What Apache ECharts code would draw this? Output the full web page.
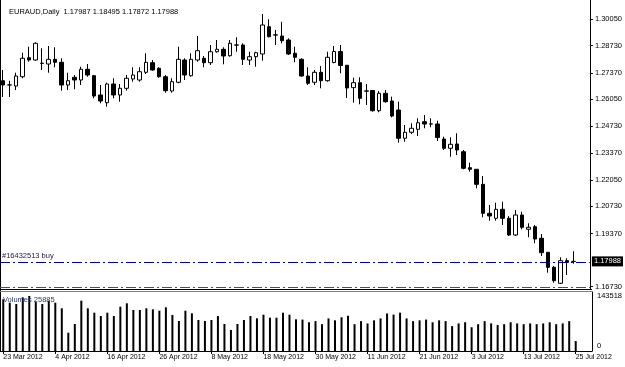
<!DOCTYPE html>
<html><head><meta charset="utf-8">
<script src="https://cdn.jsdelivr.net/npm/echarts@6/dist/echarts.min.js"></script>
<style>html,body{margin:0;padding:0;background:#fff}#c{width:625px;height:367px}</style>
</head><body><div id="c"></div>
<script>
const symbolName = 'EURAUD,Daily';
const dates = [
'23 Mar 2012','26 Mar 2012','27 Mar 2012','28 Mar 2012','29 Mar 2012','30 Mar 2012',
'2 Apr 2012','3 Apr 2012','4 Apr 2012','5 Apr 2012','6 Apr 2012','9 Apr 2012','10 Apr 2012','11 Apr 2012','12 Apr 2012','13 Apr 2012',
'16 Apr 2012','17 Apr 2012','18 Apr 2012','19 Apr 2012','20 Apr 2012','23 Apr 2012','24 Apr 2012','25 Apr 2012','26 Apr 2012','27 Apr 2012','30 Apr 2012',
'1 May 2012','2 May 2012','3 May 2012','4 May 2012','7 May 2012','8 May 2012','9 May 2012','10 May 2012','11 May 2012',
'14 May 2012','15 May 2012','16 May 2012','17 May 2012','18 May 2012','21 May 2012','22 May 2012','23 May 2012','24 May 2012','25 May 2012',
'28 May 2012','29 May 2012','30 May 2012','31 May 2012','1 Jun 2012',
'4 Jun 2012','5 Jun 2012','6 Jun 2012','7 Jun 2012','8 Jun 2012','11 Jun 2012','12 Jun 2012','13 Jun 2012','14 Jun 2012','15 Jun 2012',
'18 Jun 2012','19 Jun 2012','20 Jun 2012','21 Jun 2012','22 Jun 2012','25 Jun 2012','26 Jun 2012','27 Jun 2012','28 Jun 2012','29 Jun 2012',
'2 Jul 2012','3 Jul 2012','4 Jul 2012','5 Jul 2012','6 Jul 2012','9 Jul 2012','10 Jul 2012','11 Jul 2012','12 Jul 2012','13 Jul 2012',
'16 Jul 2012','17 Jul 2012','18 Jul 2012','19 Jul 2012','20 Jul 2012','23 Jul 2012','24 Jul 2012','25 Jul 2012'
];
const opens = [
1.26979,1.26770,1.26716,1.27178,1.28124,1.28009,1.27850,1.27810,1.28044,1.27895,
1.26765,1.27149,1.27014,1.27547,1.27228,1.26268,1.25885,1.26815,1.26268,1.26601,
1.27064,1.27014,1.27397,1.27875,1.27596,1.27178,1.26467,1.26900,1.28009,1.27228,
1.28009,1.28094,1.27875,1.28422,1.28542,1.28223,1.28760,1.28756,1.28009,1.28174,
1.28308,1.29666,1.29260,1.29204,1.29005,1.28343,1.28044,1.27213,1.26900,1.27397,
1.26979,1.27885,1.28432,1.27746,1.26631,1.26880,1.26470,1.26492,1.25487,1.26352,
1.25969,1.25521,1.24113,1.24412,1.24561,1.24939,1.24830,1.24825,1.24078,1.23616,
1.23830,1.23446,1.22650,1.22571,1.21824,1.20381,1.20132,1.20580,1.20132,1.19301,
1.20297,1.19585,1.19714,1.19137,1.18440,1.17694,1.16898,1.18023,1.17987
];
const highs = [
1.27512,1.26975,1.27377,1.28373,1.28671,1.28890,1.28592,1.28706,1.28641,1.28094,
1.27377,1.27263,1.27676,1.27810,1.27263,1.26765,1.26880,1.27099,1.26815,1.27263,
1.27646,1.27646,1.28343,1.28009,1.27646,1.27263,1.27099,1.28671,1.28094,1.28343,
1.29204,1.28208,1.28756,1.29005,1.28641,1.29005,1.29139,1.28840,1.28422,1.28422,
1.30298,1.30035,1.29502,1.29915,1.29089,1.28671,1.28094,1.27646,1.27512,1.27711,
1.28422,1.28706,1.28756,1.27761,1.27129,1.27149,1.26815,1.26517,1.26467,1.26517,
1.26183,1.25934,1.24775,1.24860,1.25108,1.25273,1.25108,1.24989,1.24193,1.24163,
1.24362,1.23531,1.22899,1.22571,1.22237,1.20794,1.20909,1.20958,1.20247,1.20545,
1.20461,1.19884,1.19799,1.19351,1.18440,1.17759,1.18192,1.18142,1.18495
];
const lows = [
1.26168,1.26168,1.26517,1.27099,1.27925,1.27975,1.27512,1.27377,1.27646,1.26482,
1.26517,1.26551,1.26765,1.27178,1.26104,1.25855,1.25686,1.26104,1.25934,1.26482,
1.26930,1.26930,1.27313,1.27477,1.27129,1.26382,1.26382,1.26850,1.27014,1.27178,
1.27925,1.27646,1.27761,1.28373,1.27795,1.28174,1.28422,1.27761,1.27761,1.27676,
1.27975,1.29139,1.28756,1.28840,1.28258,1.27895,1.27178,1.26765,1.26765,1.26601,
1.26930,1.27845,1.27348,1.26119,1.25885,1.25805,1.25770,1.25437,1.25407,1.25885,
1.25158,1.23894,1.23944,1.24327,1.24228,1.24611,1.24661,1.23979,1.23531,1.23198,
1.23282,1.22571,1.22451,1.21625,1.20182,1.20013,1.20013,1.19799,1.19252,1.19252,
1.19585,1.19187,1.18888,1.18256,1.17425,1.16928,1.16863,1.17311,1.17872
];
const closes = [
1.26765,1.26765,1.27213,1.28094,1.28009,1.28840,1.27840,1.28044,1.27895,1.26765,
1.26979,1.27014,1.27547,1.27263,1.26218,1.25969,1.26815,1.26268,1.26601,1.27099,
1.27263,1.27427,1.27895,1.27512,1.27178,1.26482,1.26930,1.28044,1.27263,1.28044,
1.28472,1.27875,1.28422,1.28542,1.28208,1.28840,1.28750,1.28044,1.28174,1.28373,
1.29751,1.29169,1.29250,1.28970,1.28308,1.28144,1.27213,1.26850,1.27397,1.26979,
1.28144,1.28432,1.27736,1.26616,1.26880,1.26104,1.26460,1.25487,1.26352,1.25934,
1.25223,1.24113,1.24412,1.24611,1.24889,1.24825,1.24820,1.24153,1.23616,1.23815,
1.23531,1.22620,1.22571,1.21824,1.20381,1.20247,1.20580,1.20132,1.19301,1.20297,
1.19684,1.19684,1.19102,1.18421,1.17694,1.17027,1.18023,1.17943,1.17988
];
const volumes = [
134900,126000,122600,140100,143518,128600,122600,131250,126000,111400,
47750,70450,131250,111400,99940,91330,99940,91330,115600,124470,
106990,106990,111420,108810,105160,114030,93940,78280,105160,98370,
80890,78280,80890,91330,70450,54800,70450,80890,91330,85330,
94720,86890,86890,99940,94720,82720,82000,75000,78000,70000,
85000,80000,88000,92000,70000,78000,72000,80000,85000,98000,
95000,100000,85000,78000,80000,82000,75000,80000,78000,65000,
72000,75000,62000,70000,78000,72000,68000,70000,75000,72000,
70000,72000,70000,72000,75000,70000,72000,78000,25885
];
const priceTicks = [1.30050,1.28730,1.27370,1.26050,1.24730,1.23370,1.22050,1.20730,1.19370,1.16730];
const volumeTicks = [0,143518];
const orderLabel = '#16432513 buy';
const orderPrice = 1.17960;
const stopPrice = 1.16700;
const volumeLabel = 'Volumes';

const FONT = 'Liberation Sans';
const PMAX = 1.30995, PMIN = 1.16614;
const VMAX = 143518 * 59 / 55;
const last = opens.length - 1;
const cats = dates.concat(['', '']);
const candleData = opens.map((o, i) => [o, closes[i], lows[i], highs[i]]);
const fmt = v => v.toFixed(5);

const chart = echarts.init(document.getElementById('c'), null, {renderer: 'canvas'});
chart.setOption({
  animation: false,
  backgroundColor: '#ffffff',
  title: {
    text: symbolName + '  ' + [opens[last], highs[last], lows[last], closes[last]].map(fmt).join(' '),
    left: 4, top: 3,
    textStyle: {fontFamily: FONT, fontSize: 7.5, fontWeight: 'normal', color: '#000'}
  },
  grid: [
    {left: -0.5, top: 0, width: 592.5, height: 289},
    {left: -0.5, top: 292, width: 592.5, height: 59}
  ],
  xAxis: [
    {type: 'category', gridIndex: 0, data: cats, boundaryGap: true,
     axisLine: {show: false}, axisTick: {show: false}, axisLabel: {show: false}, splitLine: {show: false}},
    {type: 'category', gridIndex: 1, data: cats, boundaryGap: true,
     axisLine: {show: true, lineStyle: {color: '#000', width: 1}},
     axisTick: {show: true, alignWithLabel: true, interval: 7, length: 3, lineStyle: {color: '#000'}},
     axisLabel: {interval: 7, align: 'left', margin: 3, fontFamily: FONT, fontSize: 7, color: '#000'},
     splitLine: {show: false}}
  ],
  yAxis: [
    {type: 'value', gridIndex: 0, position: 'right', min: PMIN, max: PMAX, scale: true,
     splitLine: {show: false},
     axisLine: {show: true, lineStyle: {color: '#000'}},
     axisTick: {show: true, length: 3, customValues: priceTicks, lineStyle: {color: '#000'}},
     axisLabel: {customValues: priceTicks, formatter: v => v.toFixed(5), margin: 5,
       fontFamily: FONT, fontSize: 7.5, color: '#000'}},
    {type: 'value', gridIndex: 1, position: 'right', min: 0, max: VMAX,
     splitLine: {show: false},
     axisLine: {show: true, lineStyle: {color: '#000'}},
     axisTick: {show: false},
     axisLabel: {customValues: volumeTicks, margin: 5, fontFamily: FONT, fontSize: 7.5, color: '#000',
       formatter: v => v === 0 ? '{b|0}' : String(v),
       rich: {b: {fontFamily: FONT, fontSize: 7.5, color: '#000', padding: [0, 0, 10, 0]}}}}
  ],
  series: [
    {type: 'candlestick', xAxisIndex: 0, yAxisIndex: 0, data: candleData, barWidth: 4,
     itemStyle: {color: '#ffffff', color0: '#000000', borderColor: '#000000', borderColor0: '#000000', borderWidth: 1}},
    {type: 'line', name: 'order', xAxisIndex: 0, yAxisIndex: 0, data: [], silent: true,
     itemStyle: {color: '#00008b'},
     markLine: {silent: true, symbol: 'none', animation: false, precision: 5,
       lineStyle: {color: '#00008b', width: 1, type: [10, 3, 2, 3]},
       label: {show: true, position: 'insideStartTop', formatter: orderLabel, distance: 2,
               fontFamily: FONT, fontSize: 7.5, color: '#1a1a40'},
       data: [{yAxis: orderPrice}]}},
    {type: 'line', name: 'stop', xAxisIndex: 0, yAxisIndex: 0, data: [], silent: true,
     itemStyle: {color: '#ff0000'},
     markLine: {silent: true, symbol: 'none', animation: false, precision: 5,
       lineStyle: {color: '#ff0000', width: 1, type: [10, 3, 2, 3]},
       label: {show: false},
       data: [{yAxis: stopPrice}]}},
    {type: 'line', name: 'bid', xAxisIndex: 0, yAxisIndex: 0, data: [], silent: true,
     markLine: {silent: true, symbol: 'none', animation: false, precision: 5,
       lineStyle: {color: 'rgba(0,0,0,0)', width: 1, type: 'solid'},
       label: {show: true, position: 'end', formatter: fmt(closes[last]), distance: 2,
               backgroundColor: '#000', color: '#fff', padding: [1, 2, 1, 2],
               fontFamily: FONT, fontSize: 7.5},
       data: [{yAxis: closes[last]}]}},
    {type: 'bar', xAxisIndex: 1, yAxisIndex: 1, data: volumes, barWidth: 2,
     itemStyle: {color: '#000'}}
  ],
  graphic: [
    {type: 'line', shape: {x1: 0.5, y1: 0, x2: 0.5, y2: 352}, style: {stroke: '#000', lineWidth: 1}},
    {type: 'line', shape: {x1: 0, y1: 289.5, x2: 592, y2: 289.5}, style: {stroke: '#000', lineWidth: 1}},
    {type: 'line', shape: {x1: 0, y1: 291.5, x2: 592, y2: 291.5}, style: {stroke: '#808080', lineWidth: 1}},
    {type: 'text', left: 3, top: 296, z: 100,
     style: {text: volumeLabel + ' ' + volumes[last], fontFamily: FONT, fontSize: 7.5, fill: '#2a3a6a'}}
  ]
});
</script></body></html>
